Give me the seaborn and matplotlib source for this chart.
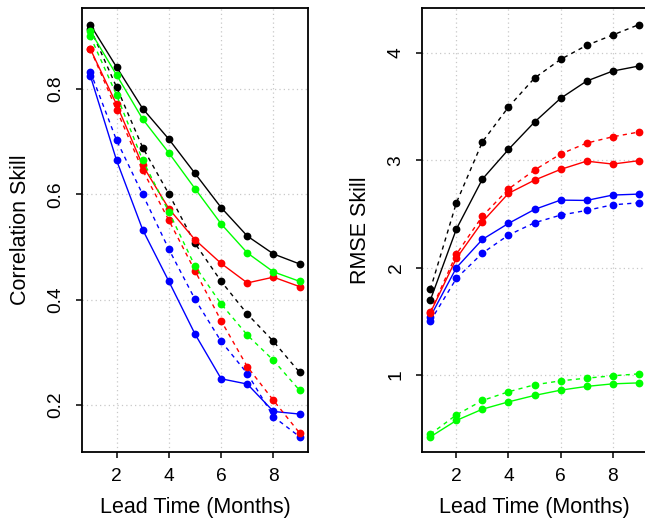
import numpy as np
import pandas as pd
import matplotlib
matplotlib.use("Agg")
import matplotlib.pyplot as plt
import seaborn as sns

lead = [1, 2, 3, 4, 5, 6, 7, 8, 9]

# Correlation skill
corr_black_solid = [0.922, 0.842, 0.763, 0.705, 0.640, 0.575, 0.521, 0.487, 0.468]
corr_black_dashed = [0.915, 0.804, 0.689, 0.601, 0.507, 0.435, 0.373, 0.321, 0.262]
corr_green_solid = [0.910, 0.827, 0.743, 0.679, 0.611, 0.544, 0.489, 0.453, 0.435]
corr_green_dashed = [0.900, 0.789, 0.665, 0.567, 0.464, 0.392, 0.333, 0.285, 0.228]
corr_red_solid = [0.876, 0.771, 0.655, 0.573, 0.514, 0.469, 0.432, 0.443, 0.425]
corr_red_dashed = [0.876, 0.761, 0.646, 0.551, 0.455, 0.360, 0.273, 0.209, 0.147]
corr_blue_solid = [0.825, 0.665, 0.533, 0.435, 0.335, 0.250, 0.240, 0.188, 0.183]
corr_blue_dashed = [0.833, 0.703, 0.600, 0.496, 0.401, 0.321, 0.260, 0.178, 0.140]

# RMSE skill
rmse_black_solid = [1.698, 2.360, 2.826, 3.102, 3.357, 3.578, 3.739, 3.832, 3.879]
rmse_black_dashed = [1.798, 2.605, 3.173, 3.497, 3.767, 3.941, 4.072, 4.168, 4.264]
rmse_green_solid = [0.424, 0.577, 0.682, 0.750, 0.810, 0.859, 0.894, 0.918, 0.927]
rmse_green_dashed = [0.449, 0.629, 0.763, 0.844, 0.909, 0.946, 0.971, 0.993, 1.011]
rmse_red_solid = [1.580, 2.087, 2.428, 2.693, 2.816, 2.916, 2.993, 2.966, 2.997]
rmse_red_dashed = [1.590, 2.126, 2.481, 2.733, 2.910, 3.059, 3.161, 3.220, 3.264]
rmse_blue_solid = [1.543, 2.000, 2.264, 2.413, 2.543, 2.630, 2.627, 2.677, 2.686]
rmse_blue_dashed = [1.502, 1.900, 2.136, 2.304, 2.419, 2.490, 2.534, 2.586, 2.605]

x_ticks = [2, 4, 6, 8]
corr_ticks = [0.2, 0.4, 0.6, 0.8]
rmse_ticks = [1, 2, 3, 4]
x_label = "Lead Time (Months)"
corr_label = "Correlation Skill"
rmse_label = "RMSE Skill"

colors = {"black": "#000000", "green": "#00FF00", "red": "#FF0000", "blue": "#0000FF"}


def long_frame(series):
    rows = []
    for (col, sty), vals in series.items():
        for x, v in zip(lead, vals):
            rows.append({"lead": x, "value": v, "color": col, "style": sty})
    return pd.DataFrame(rows)


corr_df = long_frame({
    ("black", "dashed"): corr_black_dashed,
    ("blue", "dashed"): corr_blue_dashed,
    ("red", "dashed"): corr_red_dashed,
    ("green", "dashed"): corr_green_dashed,
    ("black", "solid"): corr_black_solid,
    ("blue", "solid"): corr_blue_solid,
    ("red", "solid"): corr_red_solid,
    ("green", "solid"): corr_green_solid,
})
rmse_df = long_frame({
    ("black", "dashed"): rmse_black_dashed,
    ("blue", "dashed"): rmse_blue_dashed,
    ("red", "dashed"): rmse_red_dashed,
    ("green", "dashed"): rmse_green_dashed,
    ("black", "solid"): rmse_black_solid,
    ("blue", "solid"): rmse_blue_solid,
    ("red", "solid"): rmse_red_solid,
    ("green", "solid"): rmse_green_solid,
})

sns.set_theme(style="ticks")
plt.rcParams["font.family"] = ["Liberation Sans", "DejaVu Sans"]
plt.rcParams["text.color"] = "black"
plt.rcParams["axes.labelcolor"] = "black"

W, H = 645, 526
fig = plt.figure(figsize=(W / 100, H / 100), dpi=100)
ax1 = fig.add_axes([82 / W, (H - 452) / H, (308 - 82) / W, 444 / H])
ax2 = fig.add_axes([422 / W, (H - 452) / H, (647 - 422) / W, 444 / H])


def draw(ax, df, ylim, yticks, ylabel):
    sns.lineplot(
        data=df, x="lead", y="value", hue="color", style="style",
        palette=colors, dashes={"solid": "", "dashed": (3, 3)},
        markers={"solid": "o", "dashed": "o"}, markersize=5.6,
        markeredgewidth=0, linewidth=1.0, legend=False, ax=ax,
        units=None, estimator=None, sort=False,
    )
    ax.set_xlim(0.68, 9.32)
    ax.set_ylim(*ylim)
    ax.set_xticks(x_ticks)
    ax.set_yticks(yticks)
    ax.set_xticklabels([str(t) for t in x_ticks])
    ax.set_yticklabels([f"{t:g}" for t in yticks], rotation=90, va="center")
    ax.grid(True, linestyle=(0, (1, 2.5)), color="#c8c8c8", linewidth=0.9)
    ax.set_axisbelow(True)
    for s in ax.spines.values():
        s.set_visible(True)
        s.set_linewidth(1.3)
        s.set_color("black")
    ax.tick_params(axis="both", direction="out", length=4.5, width=1.1,
                   labelsize=13.8, colors="black", labelcolor="black", pad=7)
    ax.tick_params(axis="y", pad=8)
    ax.set_xlabel(x_label, fontsize=15.5, labelpad=9, color="black")
    ax.set_ylabel(ylabel, fontsize=15.5, labelpad=12, color="black")


draw(ax1, corr_df, (0.111, 0.954), corr_ticks, corr_label)
draw(ax2, rmse_df, (0.283, 4.42), rmse_ticks, rmse_label)

fig.savefig("out.png", dpi=100)
